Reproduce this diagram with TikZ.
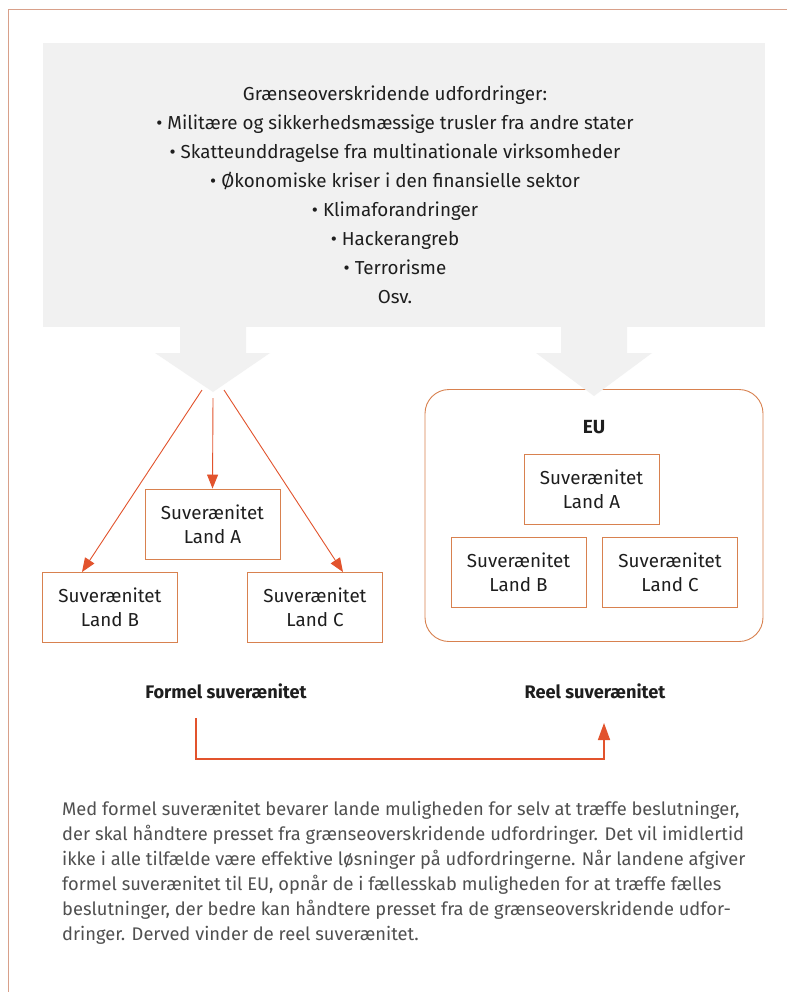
\documentclass[tikz,border=0pt]{standalone}
\usepackage{fontspec}
\setmainfont{Fira Sans}
\usetikzlibrary{arrows.meta,calc}
\definecolor{framec}{HTML}{D8A08A}
\definecolor{boxc}{HTML}{D8814F}
\definecolor{arrc}{HTML}{E2532D}
\definecolor{bandc}{HTML}{F1F1F1}
\definecolor{ink}{HTML}{1E1E1E}
\definecolor{para}{HTML}{505050}
\tikzset{
  landbox/.style={draw=boxc, line width=0.9pt, minimum width=135pt, minimum height=70pt,
    inner sep=0pt, align=center, text=ink, font=\fontsize{18.8}{24}\selectfont},
  arr/.style={draw=arrc, line width=0.9pt, -{Triangle[length=14pt,width=11pt]}},
  lbl/.style={text=ink, font=\fontsize{18.2}{20}\selectfont\bfseries},
  grayarrow/.style={fill=bandc, draw=none}
}
\begin{document}
\begin{tikzpicture}[x=1pt,y=-1pt]
\useasboundingbox (0,0) rectangle (787,992);
\fill[white] (0,0) rectangle (787,992);
% frame
\draw[framec, line width=0.9pt] (787,9.5) -- (8,9.5) -- (8,992);
% gray band
\fill[bandc] (43,43) rectangle (765,327);
% challenges text
\node[text=ink, align=center, font=\fontsize{18.8}{29}\selectfont, anchor=north] (chal) at (395,82)
 {Grænseoverskridende udfordringer:\\
  • Militære og sikkerhedsmæssige trusler fra andre stater\\
  • Skatteunddragelse fra multinationale virksomheder\\
  • Økonomiske kriser i den finansielle sektor\\
  • Klimaforandringer\\
  • Hackerangreb\\
  • Terrorisme\\
  Osv.};
% EU container
\node[draw=boxc, line width=0.9pt, rounded corners=24pt, minimum width=338pt, minimum height=252pt] (eu) at (594,515.5) {};
% gray arrows
\fill[grayarrow] (180,326) -- (246,326) -- (246,353) -- (270,353) -- (213,392) -- (155,353) -- (180,353) -- cycle;
\fill[grayarrow] (561,326) -- (627,326) -- (627,353) -- (652,353) -- (594,396) -- (536,353) -- (561,353) -- cycle;
\coordinate (srcB) at (202,390);
\coordinate (srcA) at (213,398);
\coordinate (srcC) at (224,390);
% left boxes
\node[landbox] (fA) at (212.5,524) {Suverænitet\\Land A};
\node[landbox] (fB) at (110,607.5) {Suverænitet\\Land B};
\node[landbox] (fC) at (315,607.5) {Suverænitet\\Land C};
\draw[arr] (srcA) -- (fA.north);
\draw[arr] (srcB) -- ([xshift=-28pt]fB.north);
\draw[arr] (srcC) -- ([xshift=28pt]fC.north);
% EU boxes
\node[lbl, font=\fontsize{19}{20}\selectfont\bfseries] (eulbl) at (594,427) {EU};
\node[landbox] (eA) at (591.5,489) {Suverænitet\\Land A};
\node[landbox] (eB) at (518.5,572.5) {Suverænitet\\Land B};
\node[landbox] (eC) at (670,572.5) {Suverænitet\\Land C};
% labels
\node[lbl] (formel) at (226,691) {Formel suverænitet};
\node[lbl] (reel) at (595,691) {Reel suverænitet};
\coordinate (bs) at (196,718);
\coordinate (be) at (604,723);
\draw[draw=arrc, line width=1.5pt] (bs) -- (196,759) -- (604,759) -- (604,745);
\draw[arr, line width=1.5pt, -{Triangle[length=17pt,width=12pt]}] (604,759.7) -- (be);
% paragraph
\node[anchor=north west, align=left, text=para, font=\fontsize{18.3}{25}\selectfont, inner sep=0pt] (txt) at (62,801)
 {Med formel suverænitet bevarer lande muligheden for selv at træffe beslutninger,\\
  der skal håndtere presset fra grænseoverskridende udfordringer. Det vil imidlertid\\
  ikke i alle tilfælde være effektive løsninger på udfordringerne. Når landene afgiver\\
  formel suverænitet til EU, opnår de i fællesskab muligheden for at træffe fælles\\
  beslutninger, der bedre kan håndtere presset fra de grænseoverskridende udfor-\\
  dringer. Derved vinder de reel suverænitet.};
\end{tikzpicture}
\end{document}
